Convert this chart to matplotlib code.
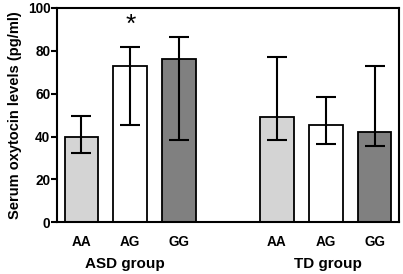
import matplotlib
matplotlib.use('Agg')
import matplotlib.pyplot as plt

# Serum oxytocin by genotype
genotypes = ['AA', 'AG', 'GG']
groups = ['ASD group', 'TD group']
asd_mean = [40, 73, 76.2]
asd_upper = [49.8, 81.6, 86.3]
asd_lower = [32.4, 45.5, 38.3]
td_mean = [49.2, 45.6, 42.3]
td_upper = [76.9, 58.5, 73.0]
td_lower = [38.6, 36.7, 35.8]
bar_colors = ['#d4d4d4', '#ffffff', '#808080']

plt.rcParams['font.family'] = ['Liberation Sans', 'DejaVu Sans']
plt.rcParams['font.weight'] = 'bold'

fig = plt.figure(figsize=(4.03, 2.74), dpi=100)
ax = fig.add_axes([0.1414, 0.1887, 0.8486, 0.7823])

positions = [0, 1, 2, 4, 5, 6]
means = asd_mean + td_mean
uppers = asd_upper + td_upper
lowers = asd_lower + td_lower
cols = bar_colors + bar_colors

for x, m, up, lo, c in zip(positions, means, uppers, lowers, cols):
    ax.bar(x, m, width=0.69, color=c, edgecolor='black', linewidth=1.3, zorder=2)
    ax.errorbar(x, m, yerr=[[m - lo], [up - m]], fmt='none', ecolor='black',
                elinewidth=1.5, capsize=7, capthick=1.5, zorder=3)

# significance marker over ASD AG
ax.text(1, 92, '*', ha='center', va='center', fontsize=19, fontweight='normal')

ax.set_xlim(-0.5, 6.5)
ax.set_ylim(0, 100)
ax.set_yticks([0, 20, 40, 60, 80, 100])
ax.set_xticks(positions)
ax.set_xticklabels(genotypes + genotypes)
ax.tick_params(axis='x', length=0, pad=9, labelsize=9.8)
ax.tick_params(axis='y', length=4.3, width=1.5, pad=0.5, labelsize=9.8)
for s in ax.spines.values():
    s.set_linewidth(1.5)

ax.set_ylabel('Serum oxytocin levels (pg/ml)', fontsize=10.5, fontweight='bold', labelpad=4)

fig.text(124.5 / 403, 1 - 268.3 / 274, groups[0], ha='center', va='baseline',
         fontsize=11, fontweight='bold')
fig.text(327.5 / 403, 1 - 268.3 / 274, groups[1], ha='center', va='baseline',
         fontsize=11, fontweight='bold')

fig.savefig('out.png', dpi=100)
